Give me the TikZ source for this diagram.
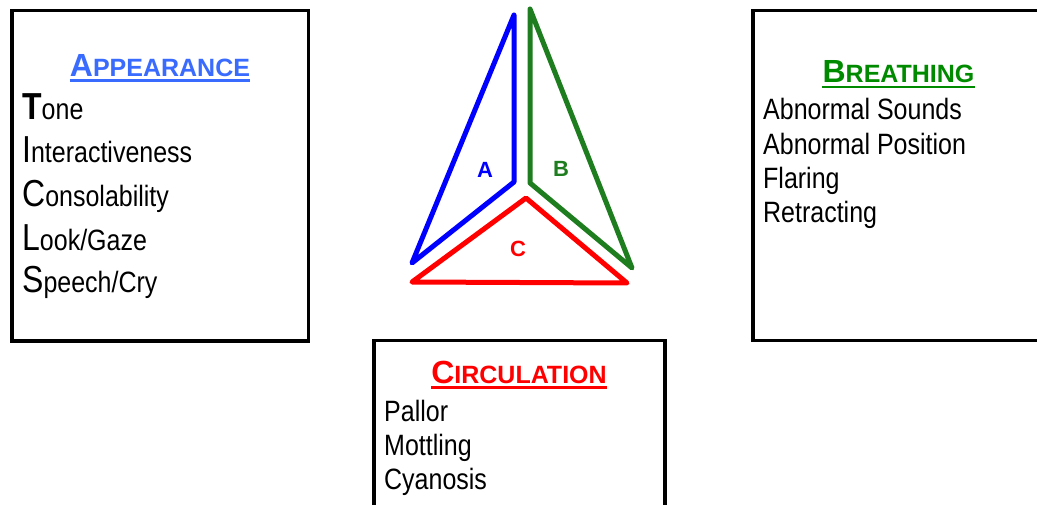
\documentclass[tikz,border=0pt]{standalone}
\usepackage{fontspec}
\setmainfont{Liberation Sans}
\newfontfamily\nar{Liberation Sans}[FakeStretch=0.85]
\definecolor{tblue}{HTML}{0000FF}
\definecolor{hblue}{HTML}{3A6BFF}
\definecolor{tgreen}{HTML}{1E7D1E}
\definecolor{hgreen}{HTML}{008A00}
\definecolor{tred}{HTML}{FF0000}
\newcommand{\fs}[1]{\fontsize{#1}{#1}\selectfont}
\newcommand{\sctitle}[2]{\bfseries\fs{32}#1\fs{25}#2}
\tikzset{
  panel/.style={draw=black, line width=3.5pt, rectangle, inner sep=0pt},
  item/.style={anchor=base west, inner sep=0pt, font=\nar\fs{29.4}},
  title/.style={anchor=base, inner sep=0pt},
  uline/.style={line width=2.2pt},
  tri/.style={line width=5pt, line join=round, line cap=round},
  letter/.style={font=\bfseries\fs{22}, inner sep=0pt}
}
\begin{document}
\begin{tikzpicture}[x=1pt,y=-1pt]
\clip (0,0) rectangle (1037,505);
\fill[white] (0,0) rectangle (1037,505);

% panels
\node[panel, minimum width=296.5pt, minimum height=330.5pt] (app) at (160.25,175.75) {};
\node[panel, minimum width=330pt, minimum height=330pt] (bre) at (918,175.5) {};
\node[panel, minimum width=291pt, minimum height=200pt] (cir) at (519.5,440.5) {};

% titles
\node[title, text=hblue] (appt) at (160,77) {\sctitle{A}{PPEARANCE}};
\draw[uline, hblue] ([yshift=-3.5pt]appt.base west) -- ([yshift=-3.5pt]appt.base east);
\node[title, text=hgreen] (bret) at (898.5,83) {\sctitle{B}{REATHING}};
\draw[uline, hgreen] ([yshift=-4pt]bret.base west) -- ([yshift=-4pt]bret.base east);
\node[title, text=tred] (cirt) at (519,383) {\sctitle{C}{IRCULATION}};
\draw[uline, tred] ([yshift=-4.5pt]cirt.base west) -- ([yshift=-4.5pt]cirt.base east);

% appearance items
\node[item] (a1) at (22,120) {{\fs{37.6}\bfseries T}one};
\node[item] (a2) at (22,163) {{\fs{37.6}I}nteractiveness};
\node[item] (a3) at (22,207) {{\fs{37.6}C}onsolability};
\node[item] (a4) at (22,251) {{\fs{37.6}L}ook/Gaze};
\node[item] (a5) at (22,293) {{\fs{37.6}S}peech/Cry};

% breathing items
\node[item] (b1) at (763,120) {Abnormal Sounds};
\node[item] (b2) at (763,155) {Abnormal Position};
\node[item] (b3) at (763,189) {Flaring};
\node[item] (b4) at (763,223) {Retracting};

% circulation items
\node[item] (c1) at (384,421) {Pallor};
\node[item] (c2) at (384,455) {Mottling};
\node[item] (c3) at (384,489) {Cyanosis};

% triangles
\coordinate (At) at (514,15);
\coordinate (Ai) at (514,182);
\coordinate (Al) at (412,263);
\coordinate (Bt) at (530,9);
\coordinate (Bi) at (530,183);
\coordinate (Br) at (632,268);
\coordinate (Ct) at (526,198);
\coordinate (Cl) at (412,282);
\coordinate (Cr) at (627,283);
\draw[tri, tblue] (At) -- (Ai) -- (Al) -- cycle;
\draw[tri, tgreen] (Bt) -- (Bi) -- (Br) -- cycle;
\draw[tri, tred] (Ct) -- (Cl) -- (Cr) -- cycle;
\node[letter, text=tblue] (la) at (485,170) {A};
\node[letter, text=tgreen] (lb) at (561,169) {B};
\node[letter, text=tred] (lc) at (518,249) {C};
\end{tikzpicture}
\end{document}
